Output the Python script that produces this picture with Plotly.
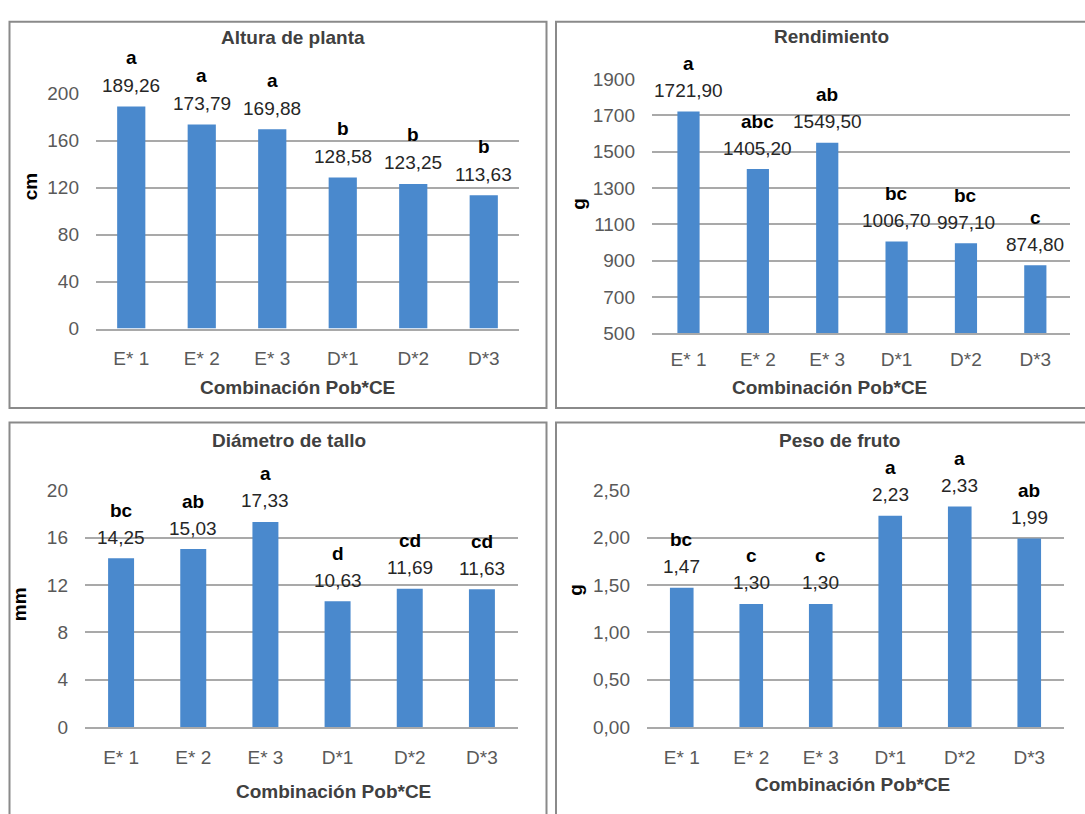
import plotly.graph_objects as go

W, H = 1085, 814

categories = ["E* 1", "E* 2", "E* 3", "D*1", "D*2", "D*3"]

altura_values = [189.26, 173.79, 169.88, 128.58, 123.25, 113.63]
altura_letters = ["a", "a", "a", "b", "b", "b"]

rend_values = [1721.90, 1405.20, 1549.50, 1006.70, 997.10, 874.80]
rend_letters = ["a", "abc", "ab", "bc", "bc", "c"]

diam_values = [14.25, 15.03, 17.33, 10.63, 11.69, 11.63]
diam_letters = ["bc", "ab", "a", "d", "cd", "cd"]

peso_values = [1.47, 1.30, 1.30, 2.23, 2.33, 1.99]
peso_letters = ["bc", "c", "c", "a", "a", "ab"]

titles = ["Altura de planta", "Rendimiento", "Diámetro de tallo", "Peso de fruto"]
y_titles = ["cm", "g", "mm", "g"]
x_title = "Combinación Pob*CE"

FONT = "Liberation Sans, Arial, sans-serif"
BAR = "#4a89cd"
GRID = "#a9a9a9"
TICKC = "#595959"
TITLEC = "#404040"
BORDER = "#8a8a8a"


def px(x):
    return x / W


def py(y):
    return 1 - y / H


panels = [
    dict(vals=altura_values, lets=altura_letters, box=(96, 519, 86, 327), rng=[0, 200], dtick=40,
         fmt="d", bw=0.40, title_xy=(293, 28), xt_xy=(297, 388), yt_xy=(30, 182), letter_off=49,
         xstand=12),
    dict(vals=rend_values, lets=rend_letters, box=(652, 1070, 71, 332), rng=[500, 1900], dtick=200,
         fmt="d", bw=0.32, title_xy=(831, 27), xt_xy=(829, 388), yt_xy=(579, 199), letter_off=48,
         xstand=8),
    dict(vals=diam_values, lets=diam_letters, box=(85, 518, 493, 736), rng=[0, 20], dtick=4,
         fmt="d", bw=0.36, title_xy=(289, 442), xt_xy=(333, 802), yt_xy=(19, 610), letter_off=48,
         xstand=12),
    dict(vals=peso_values, lets=peso_letters, box=(647, 1064, 493, 736), rng=[0, 2.5], dtick=0.5,
         fmt=".2f", bw=0.34, title_xy=(839, 442), xt_xy=(852, 795), yt_xy=(576, 595), letter_off=48,
         xstand=12),
]

fig = go.Figure()
annotations = []
layout_axes = {}

for i, p in enumerate(panels, start=1):
    xa = "x" if i == 1 else f"x{i}"
    ya = "y" if i == 1 else f"y{i}"
    x0, x1, y0, y1 = p["box"]
    fig.add_trace(go.Bar(
        x=categories, y=p["vals"], xaxis=xa, yaxis=ya,
        marker=dict(color=BAR, line=dict(width=0)), width=p["bw"],
        showlegend=False, hoverinfo="x+y",
    ))
    layout_axes[f"xaxis{'' if i == 1 else i}"] = dict(
        domain=[px(x0), px(x1)], anchor=ya, type="category",
        showgrid=False, showline=True, linecolor=GRID, linewidth=1.5,
        ticks="", ticklabelstandoff=p["xstand"],
        tickfont=dict(family=FONT, size=19, color=TICKC), fixedrange=True,
    )
    layout_axes[f"yaxis{'' if i == 1 else i}"] = dict(
        domain=[py(y1), py(y0)], anchor=xa, range=p["rng"], dtick=p["dtick"],
        tick0=p["rng"][0], tickformat=p["fmt"],
        showgrid=True, gridcolor=GRID, gridwidth=1.5, zeroline=False, showline=False,
        ticks="", ticklabelstandoff=16,
        tickfont=dict(family=FONT, size=19, color=TICKC), fixedrange=True,
    )
    for cat, v, let in zip(categories, p["vals"], p["lets"]):
        annotations.append(dict(
            x=cat, y=v, xref=xa, yref=ya, text=f"{v:.2f}".replace(".", ","),
            showarrow=False, yanchor="middle", yshift=21,
            font=dict(family=FONT, size=19, color="#262626"),
        ))
        annotations.append(dict(
            x=cat, y=v, xref=xa, yref=ya, text=f"<b>{let}</b>",
            showarrow=False, yanchor="middle", yshift=p["letter_off"],
            font=dict(family=FONT, size=19, color="#000000"),
        ))
    tx, ty = p["title_xy"]
    annotations.append(dict(
        x=px(tx), y=py(ty), xref="paper", yref="paper", text=f"<b>{titles[i-1]}</b>",
        showarrow=False, xanchor="center", yanchor="middle",
        font=dict(family=FONT, size=19, color=TITLEC),
    ))
    xx, xy = p["xt_xy"]
    annotations.append(dict(
        x=px(xx), y=py(xy), xref="paper", yref="paper", text=f"<b>{x_title}</b>",
        showarrow=False, xanchor="center", yanchor="middle",
        font=dict(family=FONT, size=19, color=TITLEC),
    ))
    yx, yy = p["yt_xy"]
    annotations.append(dict(
        x=px(yx), y=py(yy), xref="paper", yref="paper", text=f"<b>{y_titles[i-1]}</b>",
        showarrow=False, xanchor="center", yanchor="middle", textangle=-90,
        font=dict(family=FONT, size=19, color="#000000"),
    ))

# panel borders
borders = [
    (9.5, 546.5, 12, 408.5),
    (556, 1095, 12, 408.5),
    (9.5, 546.5, 423.5, 830),
    (556, 1095, 423.5, 830),
]
shapes = []
for bx0, bx1, by0, by1 in borders:
    shapes.append(dict(type="rect", xref="paper", yref="paper",
                       x0=px(bx0), x1=px(bx1), y0=py(by1), y1=py(by0),
                       line=dict(color=BORDER, width=2), fillcolor="rgba(0,0,0,0)", layer="below"))

fig.update_layout(
    width=W, height=H, autosize=False,
    margin=dict(l=0, r=0, t=0, b=0, pad=0),
    paper_bgcolor="white", plot_bgcolor="white",
    separators=",.",
    annotations=annotations, shapes=shapes,
    bargap=0.6,
    **layout_axes,
)

fig.write_html(
    "out.html",
    config={"displayModeBar": False},
    post_script="document.body.style.margin='0';document.body.style.overflow='hidden';",
)
